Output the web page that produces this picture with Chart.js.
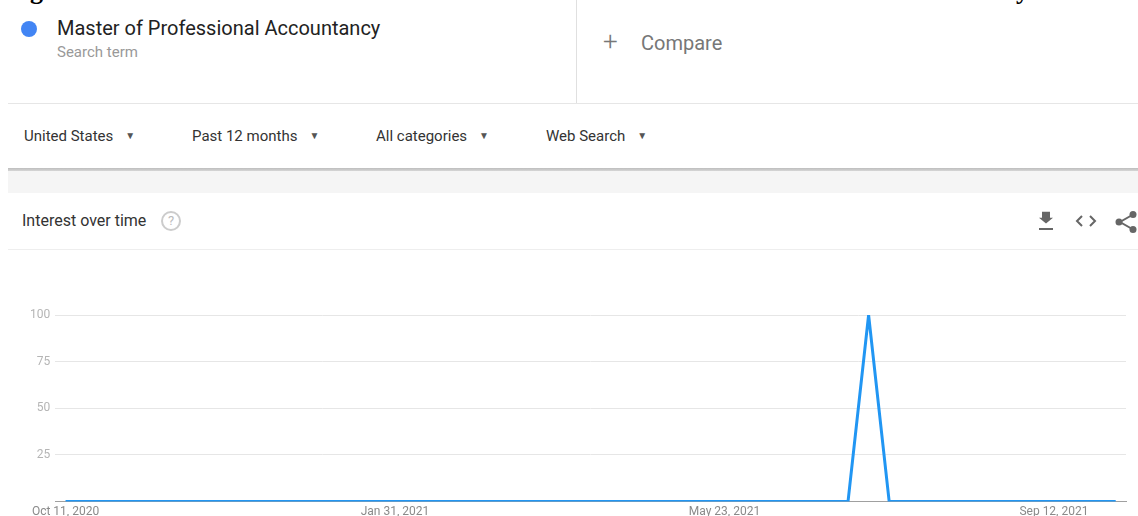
<!DOCTYPE html>
<html>
<head>
<meta charset="utf-8">
<script src="https://cdn.jsdelivr.net/npm/chart.js@4"></script>
<style>
  html, body { margin: 0; padding: 0; width: 1138px; height: 516px; overflow: hidden; background: #fff; font-family: Roboto, Arial, sans-serif; }
  .abs { position: absolute; }
  .cut { font-family: "Liberation Serif", serif; font-size: 26px; font-weight: bold; color: #000; top: -24px; }
  .dot { left: 21px; top: 21px; width: 16px; height: 16px; border-radius: 50%; background: #4285f4; }
  .term { left: 57px; top: 16px; font-size: 20px; color: #222; }
  .sub { left: 57px; top: 43px; font-size: 15px; color: #999; }
  .vdiv { left: 576px; top: 0; width: 1px; height: 103px; background: #e0e0e0; }
  .plus { left: 603px; top: 28px; font-size: 26px; color: #777; font-weight: 300; line-height: 26px; }
  .compare { left: 641px; top: 31px; font-size: 20px; color: #777; }
  .hline { left: 8px; top: 103px; width: 1130px; height: 1px; background: #e6e6e6; }
  .filter { top: 127px; font-size: 15px; color: #333; }
  .filter span { font-size: 10px; color: #555; margin-left: 12px; position: relative; top: -2px; }
  .shadow { left: 8px; top: 168px; width: 1130px; height: 3px; background: linear-gradient(#bdbdbd, #d6d6d6); }
  .band { left: 8px; top: 171px; width: 1130px; height: 22px; background: #f5f5f5; }
  .title { left: 22px; top: 211px; font-size: 16px; color: #333; }
  .help { left: 161px; top: 211px; width: 16px; height: 16px; border: 2px solid #ccc; border-radius: 50%; color: #bbb; font-size: 13px; text-align: center; line-height: 16px; }
  .icon { top: 211px; }
  .sep { left: 8px; top: 249px; width: 1130px; height: 1px; background: #eee; }
  #wrap { left: 0; top: 250px; width: 1138px; height: 272px; }
</style>
</head>
<body>
<div class="abs cut" style="left:30px;">g</div>
<div class="abs cut" style="left:1016px;">y</div>

<div class="abs dot"></div>
<div class="abs term">Master of Professional Accountancy</div>
<div class="abs sub">Search term</div>
<div class="abs vdiv"></div>
<div class="abs plus">+</div>
<div class="abs compare">Compare</div>
<div class="abs hline"></div>

<div class="abs filter" style="left:24px;">United States<span>&#9660;</span></div>
<div class="abs filter" style="left:192px;">Past 12 months<span>&#9660;</span></div>
<div class="abs filter" style="left:376px;">All categories<span>&#9660;</span></div>
<div class="abs filter" style="left:546px;">Web Search<span>&#9660;</span></div>

<div class="abs shadow"></div>
<div class="abs band"></div>

<div class="abs title">Interest over time</div>
<div class="abs help">?</div>
<svg class="abs icon" style="left:1036px;" width="20" height="20" viewBox="0 0 20 20">
  <path d="M6 2h8v7h3l-7 7-7-7h3z" fill="#666" transform="translate(0,-1) scale(1,0.85)"/>
  <rect x="3" y="17" width="14" height="2" fill="#666"/>
</svg>
<svg class="abs icon" style="left:1075px;" width="22" height="20" viewBox="0 0 22 20">
  <path d="M7 5l-5 5 5 5M15 5l5 5-5 5" fill="none" stroke="#666" stroke-width="2"/>
</svg>
<svg class="abs icon" style="left:1114px;" width="24" height="22" viewBox="0 0 24 22">
  <path d="M20 3L6 11l14 8" fill="none" stroke="#666" stroke-width="2"/>
  <circle cx="19" cy="3.5" r="3.5" fill="#666"/>
  <circle cx="5" cy="11" r="3.5" fill="#666"/>
  <circle cx="19" cy="18.5" r="3.5" fill="#666"/>
</svg>
<div class="abs sep"></div>

<div class="abs" id="wrap"><canvas id="trendChart"></canvas></div>

<script>
// weekly points, Oct 11 2020 .. Oct 3 2021
const weeks = [
    'Oct 11, 2020', 'Oct 18, 2020', 'Oct 25, 2020', 'Nov 1, 2020', 'Nov 8, 2020', 'Nov 15, 2020',
    'Nov 22, 2020', 'Nov 29, 2020', 'Dec 6, 2020', 'Dec 13, 2020', 'Dec 20, 2020', 'Dec 27, 2020',
    'Jan 3, 2021', 'Jan 10, 2021', 'Jan 17, 2021', 'Jan 24, 2021', 'Jan 31, 2021', 'Feb 7, 2021',
    'Feb 14, 2021', 'Feb 21, 2021', 'Feb 28, 2021', 'Mar 7, 2021', 'Mar 14, 2021', 'Mar 21, 2021',
    'Mar 28, 2021', 'Apr 4, 2021', 'Apr 11, 2021', 'Apr 18, 2021', 'Apr 25, 2021', 'May 2, 2021',
    'May 9, 2021', 'May 16, 2021', 'May 23, 2021', 'May 30, 2021', 'Jun 6, 2021', 'Jun 13, 2021',
    'Jun 20, 2021', 'Jun 27, 2021', 'Jul 4, 2021', 'Jul 11, 2021', 'Jul 18, 2021', 'Jul 25, 2021',
    'Aug 1, 2021', 'Aug 8, 2021', 'Aug 15, 2021', 'Aug 22, 2021', 'Aug 29, 2021', 'Sep 5, 2021',
    'Sep 12, 2021', 'Sep 19, 2021', 'Sep 26, 2021', 'Oct 3, 2021'
];

const interest = [
    0, 0, 0, 0, 0, 0, 0, 0, 0, 0, 0, 0,
    0, 0, 0, 0, 0, 0, 0, 0, 0, 0, 0, 0,
    0, 0, 0, 0, 0, 0, 0, 0, 0, 0, 0, 0,
    0, 0, 0, 100, 0, 0, 0, 0, 0, 0, 0, 0,
    0, 0, 0, 0
];

const xTickLabels = ['Oct 11, 2020', 'Jan 31, 2021', 'May 23, 2021', 'Sep 12, 2021'];
const yTicks = [25, 50, 75, 100];

const ctx = document.getElementById('trendChart').getContext('2d');

const trendChart = new Chart(ctx, {
    type: 'line',
    data: {
        labels: weeks,
        datasets: [{
            label: 'Master of Professional Accountancy',
            data: interest,
            borderColor: '#2196f3',
            borderWidth: 3,
            pointRadius: 0,
            tension: 0,
            fill: false
        }]
    },
    options: {
        responsive: true,
        maintainAspectRatio: false,
        animation: false,
        layout: {
            padding: { left: 25, right: 12, top: 65, bottom: 0 }
        },
        plugins: {
            legend: { display: false },
            tooltip: { enabled: false }
        },
        scales: {
            x: {
                offset: true,
                grid: { display: false, drawTicks: false },
                border: { color: '#a0a0a0' },
                ticks: {
                    autoSkip: false,
                    maxRotation: 0,
                    padding: 3,
                    color: '#8a8a8a',
                    font: { family: 'Roboto', size: 12 },
                    callback: function (val) {
                        const lbl = this.getLabelForValue(val);
                        return xTickLabels.includes(lbl) ? lbl : null;
                    }
                }
            },
            y: {
                min: 0,
                max: 100,
                afterBuildTicks: axis => {
                    axis.ticks = [0].concat(yTicks).map(v => ({ value: v }));
                },
                grid: {
                    drawTicks: false,
                    color: c => c.tick.value === 0 ? 'rgba(0,0,0,0)' : '#e6e6e6'
                },
                border: { display: false },
                ticks: {
                    padding: 5,
                    color: '#b5b5b5',
                    font: { family: 'Roboto', size: 12 },
                    callback: v => v === 0 ? '' : v
                }
            }
        }
    }
});
</script>
</body>
</html>
